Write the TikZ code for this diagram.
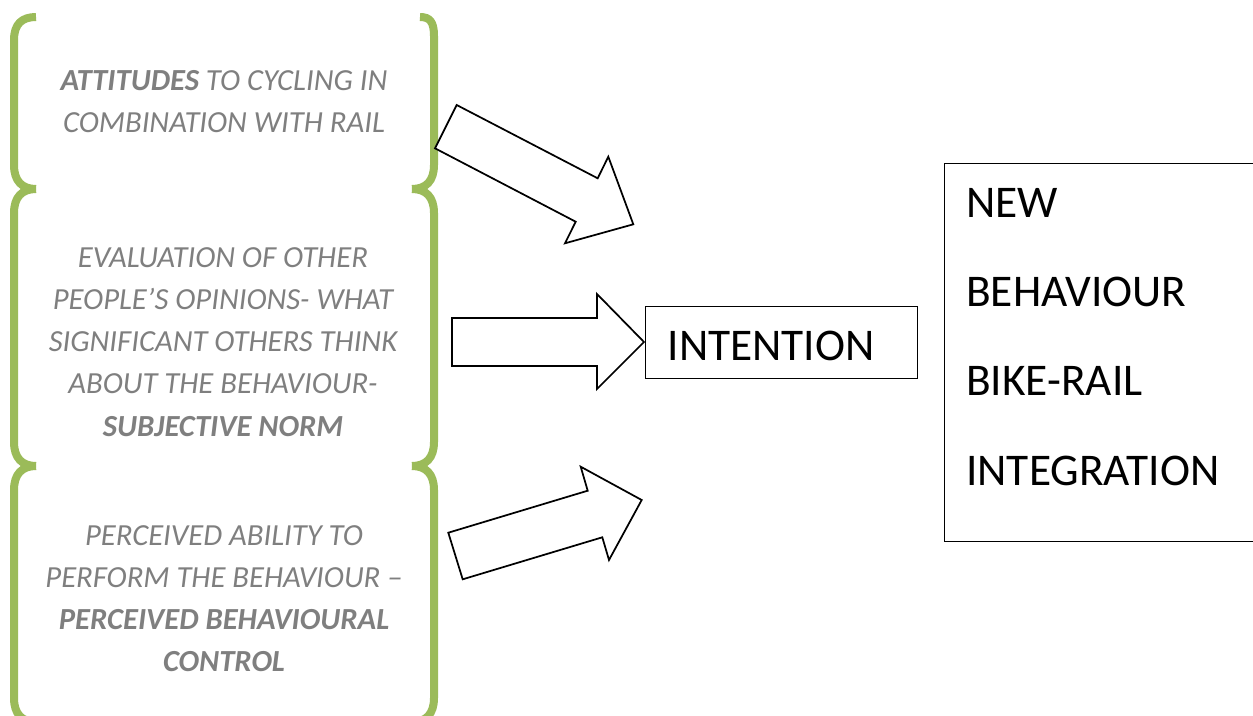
\documentclass[tikz,border=0pt]{standalone}
\usepackage{fontspec}
\setmainfont{Carlito}
\definecolor{brgreen}{HTML}{9BBB59}
\definecolor{txtgrey}{HTML}{7F7F7F}
\begin{document}
\begin{tikzpicture}[x=0.75pt,y=-0.75pt,
  bracket/.style={draw=brgreen, line width=6pt, line cap=butt},
  greytext/.style={text=txtgrey, font=\fontsize{23}{31.7}\selectfont\itshape, inner sep=0pt, anchor=base},
  blockarrow/.style={draw=black, line width=1.3pt, fill=white, line join=miter},
  boxstyle/.style={draw=black, line width=1pt},
  bigtext/.style={font=\fontsize{34}{67}\selectfont, text=black}]
\useasboundingbox (0,0) rectangle (1253,715);
\clip (0,0) rectangle (1253,715);

% green brackets, left sides
\draw[bracket] (36,17) .. controls (22,17) and (14,24) .. (14,40) -- (14,165) .. controls (14,181) and (22,189) .. (36,189);
\draw[bracket] (36,189) .. controls (22,189) and (14,197) .. (14,213) -- (14,442) .. controls (14,458) and (22,466) .. (36,466);
\draw[bracket] (36,466) .. controls (22,466) and (14,474) .. (14,490) -- (14,698) .. controls (14,714) and (22,722) .. (36,722);
% green brackets, right sides
\draw[bracket] (420,17) .. controls (430,17) and (434,22) .. (434,36) -- (434,165) .. controls (434,181) and (426,189) .. (412,189);
\draw[bracket] (412,189) .. controls (426,189) and (434,197) .. (434,213) -- (434,442) .. controls (434,458) and (426,466) .. (412,466);
\draw[bracket] (412,466) .. controls (426,466) and (434,474) .. (434,490) -- (434,698) .. controls (434,714) and (426,722) .. (412,722);

% bracket texts
\node[greytext] (att) at (224,90) {\begin{tabular}[t]{@{}c@{}}\textbf{ATTITUDES} TO CYCLING IN\\COMBINATION WITH RAIL\end{tabular}};
\node[greytext] (norm) at (223,267) {\begin{tabular}[t]{@{}c@{}}EVALUATION OF OTHER\\PEOPLE’S OPINIONS- WHAT\\SIGNIFICANT OTHERS THINK\\ABOUT THE BEHAVIOUR-\\\textbf{SUBJECTIVE NORM}\end{tabular}};
\node[greytext] (pbc) at (224,545) {\begin{tabular}[t]{@{}c@{}}PERCEIVED ABILITY TO\\PERFORM THE BEHAVIOUR –\\\textbf{PERCEIVED BEHAVIOURAL}\\\textbf{CONTROL}\end{tabular}};

% block arrows
\draw[blockarrow] (456.7,105) -- (597.7,178.3) -- (608.3,156.7) -- (633.3,224.3) -- (565,243.3) -- (575.7,221.7) -- (435,148.3) -- cycle;
\draw[blockarrow] (452,318) -- (597,318) -- (597,294) -- (644,342) -- (597,389) -- (597,366) -- (452,366) -- cycle;
\draw[blockarrow] (448.3,532.7) -- (587.7,490.7) -- (580.7,466.7) -- (641.7,500) -- (609,560) -- (602.3,537.3) -- (462.7,579.3) -- cycle;

% intention box
\node[boxstyle, bigtext, anchor=north west, inner xsep=16.5pt, inner ysep=0pt,
      text width=171pt, align=left, text height=27pt, text depth=0pt,
      minimum width=204pt, minimum height=54pt] (intention) at (645,306) {INTENTION};

% outcome box (right edge outside the picture)
\node[boxstyle, anchor=north west, minimum width=270pt, minimum height=283.5pt, inner sep=0pt] (outbox) at (944,163) {};
\node[bigtext, anchor=base west, inner sep=0pt] (outtext) at (966,217) {\begin{tabular}[t]{@{}l@{}}NEW\\BEHAVIOUR\\BIKE-RAIL\\INTEGRATION\end{tabular}};
\end{tikzpicture}
\end{document}
